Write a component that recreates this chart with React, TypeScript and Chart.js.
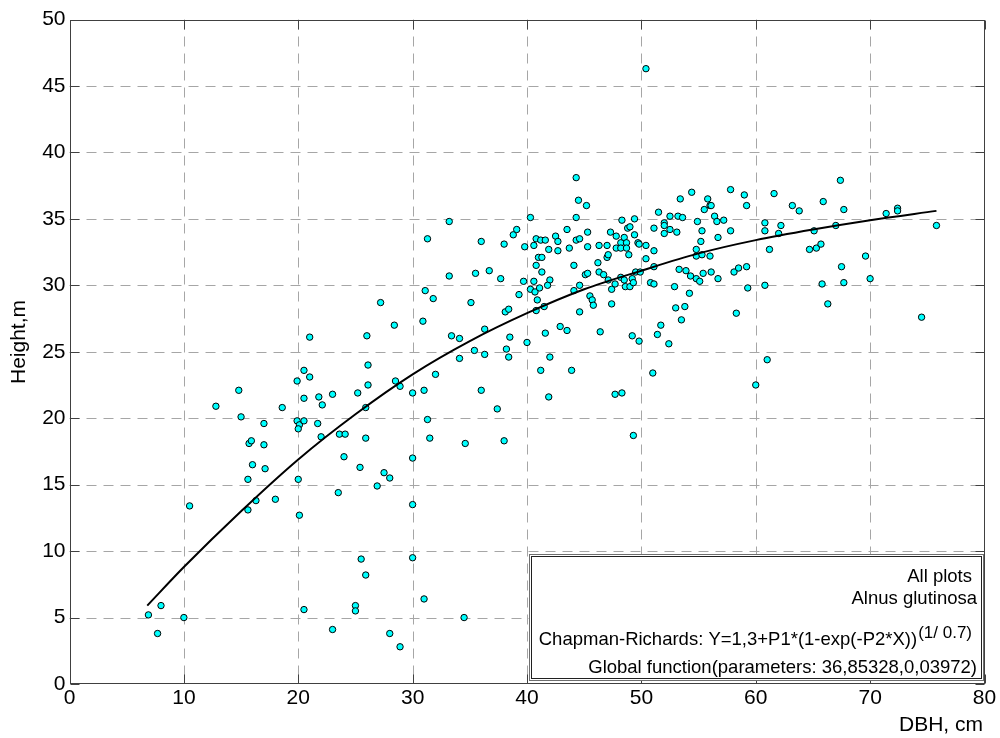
import React, { useEffect, useRef } from "react";
import { Chart, registerables } from "chart.js";

Chart.register(...registerables);

// Measured trees: DBH (cm) and height (m)
const dbh: number[] = [
  6.9, 8.0, 7.7, 10.0, 10.5, 12.8, 14.8, 15.0, 17.0, 15.7, 15.9, 17.0, 16.0, 17.1, 15.6, 16.3, 15.6, 18.0, 18.6, 19.9,
  19.9, 20.1, 20.0, 20.5, 20.5, 20.0, 20.1, 20.5, 21.8, 22.1, 21.7, 22.0, 23.0, 23.6, 24.1, 24.0, 23.5, 23.0, 25.2, 26.1,
  25.9, 25.9, 25.4, 27.5, 28.0, 26.9, 25.5, 25.9, 25.0, 25.0, 28.0, 28.9, 28.5, 28.9,
  30.0, 31.0, 36.0, 37.4, 31.3, 31.5, 34.6, 38.0, 41.9, 47.7, 48.3, 49.3, 30.0, 30.0, 30.0, 31.0, 34.5,
  20.5, 21.0, 21.0, 26.0, 26.1, 27.2, 28.4,
  32.0, 30.9, 31.1, 31.8, 31.3, 33.2, 33.2, 33.4, 34.1, 34.1, 35.1, 35.5, 36.0, 36.7, 36.3, 35.4, 36.3, 37.7, 38.0, 38.8,
  39.1, 39.8, 40.3, 40.6, 40.8, 41.2, 41.6, 41.9, 41.0, 41.3, 40.8, 41.3, 39.7, 40.6, 42.0, 41.8, 40.3, 40.7, 41.1, 40.9,
  39.3, 38.1, 38.4, 40.8, 41.5, 38.5, 38.2, 38.4, 40.0, 41.6, 41.2, 42.0,
  42.5, 42.7, 42.7, 43.5, 43.7, 44.3, 44.5, 45.2, 44.3, 44.3, 44.6, 45.3, 45.3, 44.1, 45.1, 45.3, 44.6, 44.1, 44.6, 45.5,
  45.7, 45.8, 42.9, 43.5, 43.9, 46.4, 46.2, 46.3, 46.3, 46.7, 47.0, 47.0, 47.1, 47.3, 47.8, 47.1, 47.4, 47.4, 47.7, 47.8,
  48.2, 48.5, 48.7, 48.2, 48.7, 48.9, 48.3, 48.8, 49.0, 49.4, 49.4, 49.7, 49.8, 48.2, 48.5, 48.6, 49.0, 49.2, 49.3, 49.5,
  49.9, 50.4, 50.4, 51.1, 51.5, 51.1, 51.1, 50.8, 51.1, 49.8, 49.2, 51.0, 51.4, 51.7, 52.0, 52.0, 52.0, 52.5, 52.5, 53.1,
  53.2, 53.6, 53.4, 54.4, 53.3, 53.9, 54.3, 54.8, 55.1, 55.4, 52.9, 54.2, 53.0, 53.8, 53.5, 52.4, 54.9, 55.3, 55.2, 54.8,
  54.8, 55.3, 55.5, 55.8, 56.0, 56.1, 56.4, 56.6, 56.7, 56.0, 56.1, 56.7, 57.2, 57.8, 57.8, 58.1, 58.5, 58.3, 59.0, 59.2,
  59.2, 59.3,
  60.8, 60.8, 61.6, 62.2, 62.0, 61.2, 60.8, 61.0, 60.0, 63.2, 63.8, 65.9, 67.4, 67.7, 67.0, 65.1, 64.7, 65.3, 65.7, 67.5,
  65.8, 67.7, 66.3, 69.6, 70.0, 71.4, 72.4, 72.4, 74.5, 75.8, 50.4,
];
const height: number[] = [
  5.2, 5.9, 3.8, 5.0, 13.4, 20.9, 22.1, 20.1, 19.6, 18.1, 18.3, 18.0, 16.5, 16.2, 15.4, 13.8, 13.1, 13.9, 20.8, 22.8,
  19.8, 19.5, 19.2, 19.8, 21.5, 15.4, 12.7, 5.6, 21.6, 21.0, 19.6, 18.6, 21.8, 18.8, 18.8, 17.1, 14.4, 4.1, 21.9, 22.5,
  20.8, 18.5, 16.3, 15.9, 15.5, 14.9, 9.4, 8.2, 5.9, 5.5, 3.8, 2.8, 22.8, 22.4,
  21.9, 22.1, 22.1, 20.7, 19.9, 18.5, 18.1, 18.3, 21.6, 21.8, 21.9, 18.7, 17.0, 13.5, 9.5, 6.4, 5.0,
  23.6, 23.1, 26.1, 26.2, 24.0, 28.7, 27.0,
  23.3, 27.3, 29.6, 29.0, 33.5, 34.8, 30.7, 26.2, 26.0, 24.5, 28.7, 30.9, 33.3, 31.1, 26.7, 25.1, 24.8, 30.5, 33.1, 33.8,
  34.2, 32.9, 35.1, 33.0, 33.5, 33.4, 33.4, 32.7, 32.1, 32.1, 31.5, 31.0, 30.3, 30.3, 30.4, 30.0, 29.7, 29.5, 29.8, 28.9,
  29.3, 28.0, 28.2, 28.1, 28.4, 26.1, 25.2, 24.6, 25.7, 26.4, 23.6, 24.6,
  33.7, 33.3, 32.6, 34.2, 32.8, 38.1, 36.4, 36.0, 35.1, 33.4, 33.5, 34.0, 32.9, 31.5, 30.8, 30.9, 30.0, 29.6, 28.0, 29.2,
  28.9, 28.5, 26.9, 26.6, 23.6, 26.5, 31.7, 31.0, 33.0, 30.8, 33.0, 32.1, 32.3, 34.0, 33.7, 30.4, 28.6, 29.7, 30.1, 32.8,
  33.2, 33.6, 33.2, 32.8, 32.8, 32.3, 34.9, 34.3, 34.4, 35.0, 33.8, 33.2, 33.1, 30.6, 30.4, 29.9, 29.9, 30.5, 30.2, 31.0,
  31.0, 33.0, 32.0, 34.3, 35.5, 32.6, 31.4, 30.2, 30.1, 25.8, 26.2, 23.4, 26.3, 27.0, 34.7, 34.5, 33.9, 34.2, 35.2, 34.0,
  35.2, 35.1, 36.5, 37.0, 31.2, 31.1, 30.7, 30.5, 30.3, 30.9, 29.9, 29.4, 28.3, 28.4, 27.4, 25.6, 34.8, 34.1, 33.3, 32.7,
  32.2, 32.3, 35.7, 36.5, 36.0, 36.0, 35.2, 34.8, 33.6, 32.2, 31.0, 30.5, 34.9, 37.2, 34.1, 31.0, 31.3, 27.9, 36.8, 36.0,
  31.4, 29.8,
  34.7, 34.1, 36.9, 34.5, 33.9, 32.7, 30.0, 24.4, 22.5, 36.0, 35.6, 36.3, 37.9, 35.7, 34.5, 34.1, 32.7, 32.8, 33.1, 31.4,
  30.1, 30.2, 28.6, 32.2, 30.5, 35.4, 35.8, 35.6, 27.6, 34.5, 46.3,
];

// Fitted Chapman-Richards curve
const curveDbh: number[] = [6.8, 10, 15, 20, 25, 30, 35, 40, 45, 50, 55, 60, 65, 70, 75.8];
const curveHeight: number[] = [5.9, 8.8, 13.0, 16.9, 20.3, 23.3, 25.8, 27.9, 29.7, 31.1, 32.4, 33.4, 34.2, 34.9, 35.6];

const xTicks = { min: 0, max: 80, step: 10 };
const yTicks = { min: 0, max: 50, step: 5 };

const xTitle = "DBH, cm";
const yTitle = "Height,m";
const boxLines = ["All plots", "Alnus glutinosa"];
const formulaMain = "Chapman-Richards: Y=1,3+P1*(1-exp(-P2*X))";
const formulaSup = "(1/ 0.7)";
const paramsLine = "Global function(parameters: 36,85328,0,03972)";

const FONT = "'Liberation Sans', Arial, sans-serif";
const GRID = "#a6a6a6";
const AXIS = "#404040";

const decor = {
  id: "decor",
  beforeDatasetsDraw(chart: any) {
    const { ctx, chartArea: a, scales } = chart;
    const x = scales.x, y = scales.y;
    ctx.save();
    ctx.strokeStyle = GRID;
    ctx.lineWidth = 1;
    ctx.setLineDash([10, 7]);
    for (const t of x.ticks) {
      const px = Math.round(x.getPixelForValue(t.value)) + 0.5;
      if (px <= a.left + 1 || px >= a.right - 1) continue;
      ctx.beginPath();
      ctx.moveTo(px, a.top);
      ctx.lineTo(px, a.bottom);
      ctx.stroke();
    }
    for (const t of y.ticks) {
      const py = Math.round(y.getPixelForValue(t.value)) + 0.5;
      if (py <= a.top + 1 || py >= a.bottom - 1) continue;
      ctx.beginPath();
      ctx.moveTo(a.left, py);
      ctx.lineTo(a.right, py);
      ctx.stroke();
    }
    ctx.restore();
  },
  afterDatasetsDraw(chart: any) {
    const { ctx, chartArea: a, scales } = chart;
    const x = scales.x, y = scales.y;
    const L = Math.round(a.left) + 0.5, R = Math.round(a.right) - 0.5;
    const T = Math.round(a.top) + 0.5, B = Math.round(a.bottom) - 0.5;
    ctx.save();
    // axes box
    ctx.setLineDash([]);
    ctx.strokeStyle = AXIS;
    ctx.lineWidth = 1;
    ctx.strokeRect(L, T, R - L, B - T);
    // inward ticks
    const tl = 9;
    ctx.beginPath();
    for (const t of x.ticks) {
      const px = Math.round(x.getPixelForValue(t.value)) + 0.5;
      ctx.moveTo(px, B); ctx.lineTo(px, B - tl);
      ctx.moveTo(px, T); ctx.lineTo(px, T + tl);
    }
    for (const t of y.ticks) {
      const py = Math.round(y.getPixelForValue(t.value)) + 0.5;
      ctx.moveTo(L, py); ctx.lineTo(L + tl, py);
      ctx.moveTo(R, py); ctx.lineTo(R - tl, py);
    }
    ctx.stroke();

    // text box
    const bx0 = 529.5, by0 = 554.5, bx1 = R - 1, by1 = B - 3;
    ctx.fillStyle = "#ffffff";
    ctx.fillRect(bx0, by0, bx1 - bx0, by1 - by0);
    ctx.strokeStyle = "#6e6e6e";
    ctx.strokeRect(bx0, by0, bx1 - bx0, by1 - by0);
    ctx.strokeStyle = "#202020";
    ctx.strokeRect(bx0 + 2, by0 + 2, bx1 - bx0 - 4, by1 - by0 - 4);

    ctx.fillStyle = "#000";
    ctx.textAlign = "right";
    ctx.textBaseline = "alphabetic";
    ctx.font = `18.5px ${FONT}`;
    ctx.fillText(boxLines[0], 972, 582);
    ctx.fillText(boxLines[1], 977, 604);
    ctx.font = `17px ${FONT}`;
    const supW = ctx.measureText(formulaSup).width;
    ctx.fillText(formulaSup, 972, 638);
    ctx.font = `18.5px ${FONT}`;
    ctx.fillText(formulaMain, 972 - supW - 1, 645);
    ctx.fillText(paramsLine, 977, 673);

    // axis titles
    ctx.font = `21px ${FONT}`;
    ctx.textAlign = "right";
    ctx.fillText(xTitle, 983, 731);
    ctx.save();
    ctx.translate(25, 342);
    ctx.rotate(-Math.PI / 2);
    ctx.textAlign = "center";
    ctx.fillText(yTitle, 0, 0);
    ctx.restore();
    ctx.restore();
  },
};

export default function App() {
  const ref = useRef<HTMLCanvasElement | null>(null);
  useEffect(() => {
    document.body.style.margin = "0";
    const canvas = ref.current;
    if (!canvas) return;
    const points = dbh.map((d, i) => ({ x: d, y: height[i] }));
    const curve = curveDbh.map((d, i) => ({ x: d, y: curveHeight[i] }));
    const chart = new Chart(canvas, {
      type: "scatter",
      data: {
        datasets: [
          {
            type: "line",
            data: curve,
            borderColor: "#000",
            borderWidth: 2,
            pointRadius: 0,
            fill: false,
            cubicInterpolationMode: "monotone",
            order: 0,
          } as any,
          {
            type: "scatter",
            data: points,
            backgroundColor: "#00ffff",
            borderColor: "#000",
            borderWidth: 1,
            pointRadius: 3.2,
            order: 1,
          },
        ],
      },
      options: {
        animation: false,
        responsive: false,
        devicePixelRatio: 1,
        layout: { padding: { top: 19.5, right: 15.5, left: 0, bottom: 0 } },
        plugins: { legend: { display: false }, tooltip: { enabled: false } },
        scales: {
          x: {
            type: "linear",
            min: xTicks.min,
            max: xTicks.max,
            grid: { display: false, drawTicks: false },
            border: { display: false },
            ticks: {
              stepSize: xTicks.step,
              color: "#000",
              font: { family: FONT, size: 21 },
              padding: 2,
              maxRotation: 0,
              autoSkip: false,
            },
            afterFit: (s: any) => { s.height = 54; },
          },
          y: {
            type: "linear",
            min: yTicks.min,
            max: yTicks.max,
            grid: { display: false, drawTicks: false },
            border: { display: false },
            ticks: {
              stepSize: yTicks.step,
              color: "#000",
              font: { family: FONT, size: 21 },
              padding: 4,
              autoSkip: false,
            },
            afterFit: (s: any) => { s.width = 69.5; },
          },
        },
      } as any,
      plugins: [decor],
    });
    return () => chart.destroy();
  }, []);
  return <canvas ref={ref} width={1000} height={738} style={{ display: "block" }} />;
}
